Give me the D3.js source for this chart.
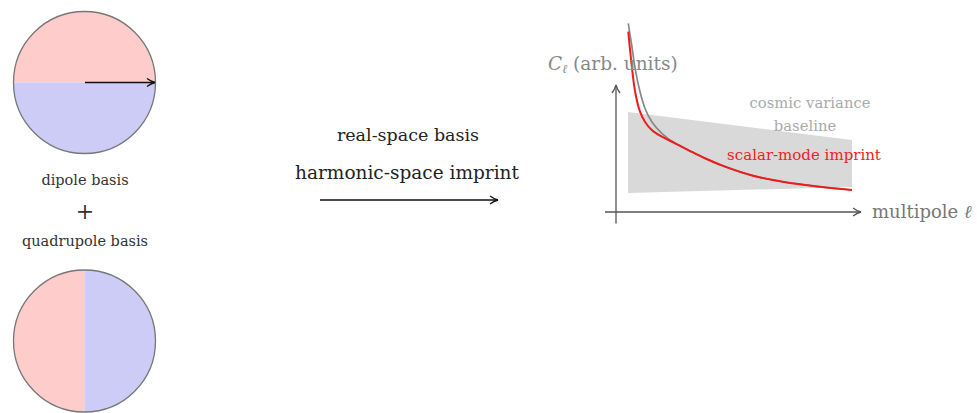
<!DOCTYPE html>
<meta charset="utf-8">
<head>
    <title>Basis to imprint</title>
    <script src="https://cdn.jsdelivr.net/npm/d3@7"></script>
    <style>
        html, body { margin: 0; padding: 0; background: white; }
        svg { display: block; font-family: "DejaVu Serif", "Liberation Serif", serif; }
    </style>
</head>
<body>
<svg id="fig" width="977" height="413"></svg>
<script>
    // multipole positions (arbitrary units 0..100) and C_ell values
    var ellRed   = [5.0, 6.4, 7.8, 9.8, 11.8, 14.6, 18.7, 24.1, 29.5, 36.3, 44.5, 55.9, 69.8, 83.3, 96.3];
    var clRed    = [142.0, 115.7, 94.7, 79.0, 71.1, 64.6, 59.3, 54.1, 48.8, 42.3, 35.7, 28.6, 23.2, 19.9, 17.3];
    var ellGray  = [5.0, 6.4, 7.8, 9.8, 11.8, 14.6, 18.7, 24.1, 29.5, 36.3, 44.5, 55.9, 69.8, 83.3, 96.3];
    var clGray   = [148.6, 131.5, 113.1, 94.7, 81.7, 71.1, 62.0, 54.1, 48.8, 42.3, 35.7, 28.6, 23.2, 19.9, 17.3];
    // cosmic variance band: lower and upper edge at both ends
    var bandEll   = [4.9, 96.3];
    var bandLow   = [15.0, 19.7];
    var bandHigh  = [78.7, 56.7];

    var svg = d3.select("#fig");

    // ---- left: the two basis disks
    var disks = [
        {cx: 84.5, cy: 82.5, r: 71, split: "h"},
        {cx: 84.5, cy: 341, r: 71, split: "v"}
    ];
    var pink = "#ffcccc", blue = "#ccccf7";

    disks.forEach(function(d, i) {
        var g = svg.append("g");
        var clipId = "clip" + i;
        g.append("clipPath").attr("id", clipId)
            .append("circle").attr("cx", d.cx).attr("cy", d.cy).attr("r", d.r);
        if (d.split == "h") {
            g.append("rect").attr("x", d.cx - d.r).attr("y", d.cy - d.r).attr("width", 2 * d.r).attr("height", d.r)
                .attr("fill", pink).attr("clip-path", "url(#" + clipId + ")");
            g.append("rect").attr("x", d.cx - d.r).attr("y", d.cy).attr("width", 2 * d.r).attr("height", d.r)
                .attr("fill", blue).attr("clip-path", "url(#" + clipId + ")");
        } else {
            g.append("rect").attr("x", d.cx - d.r).attr("y", d.cy - d.r).attr("width", d.r).attr("height", 2 * d.r)
                .attr("fill", pink).attr("clip-path", "url(#" + clipId + ")");
            g.append("rect").attr("x", d.cx).attr("y", d.cy - d.r).attr("width", d.r).attr("height", 2 * d.r)
                .attr("fill", blue).attr("clip-path", "url(#" + clipId + ")");
        }
        g.append("circle").attr("cx", d.cx).attr("cy", d.cy).attr("r", d.r)
            .attr("fill", "none").attr("stroke", "#777").attr("stroke-width", 1.3);
    });

    // arrow markers
    function marker(id, color) {
        var m = svg.append("defs").append("marker").attr("id", id)
            .attr("viewBox", "0 0 10 10").attr("refX", 9).attr("refY", 5)
            .attr("markerWidth", 10).attr("markerHeight", 10)
            .attr("markerUnits", "userSpaceOnUse").attr("orient", "auto");
        m.append("path").attr("d", "M1,1 Q5,4 9,5 Q5,6 1,9")
            .attr("fill", "none").attr("stroke", color).attr("stroke-width", 1.3);
    }
    marker("arrBlack", "#111");
    marker("arrGray", "#555");

    svg.append("line").attr("x1", 85).attr("y1", 82.5).attr("x2", 155).attr("y2", 82.5)
        .attr("stroke", "#111").attr("stroke-width", 1.5).attr("marker-end", "url(#arrBlack)");

    var leftText = [
        {t: "dipole basis", y: 185, size: 14.5},
        {t: "+", y: 219, size: 22},
        {t: "quadrupole basis", y: 246, size: 14.5}
    ];
    svg.selectAll("text.left").data(leftText).enter().append("text")
        .attr("class", "left")
        .attr("x", 85).attr("y", function(d) { return d.y; })
        .attr("text-anchor", "middle").attr("font-size", function(d) { return d.size; })
        .attr("fill", "#333")
        .style("font-weight", function(d) { return d.t == "+" ? 200 : 400; })
        .text(function(d) { return d.t; });

    // ---- middle: transform arrow
    svg.append("text").attr("x", 408).attr("y", 141).attr("text-anchor", "middle")
        .attr("font-size", 17.5).attr("fill", "#222").text("real-space basis");
    svg.append("text").attr("x", 407).attr("y", 179).attr("text-anchor", "middle")
        .attr("font-size", 18.5).attr("fill", "#222").text("harmonic-space imprint");
    svg.append("line").attr("x1", 320).attr("y1", 200).attr("x2", 498).attr("y2", 200)
        .attr("stroke", "#111").attr("stroke-width", 1.5).attr("marker-end", "url(#arrBlack)");

    // ---- right: power spectrum sketch
    var x = d3.scaleLinear().domain([0, 100]).range([616, 861]);
    var y = d3.scaleLinear().domain([0, 100]).range([212, 85]);

    var band = bandEll.map(function(e, i) { return {e: e, lo: bandLow[i], hi: bandHigh[i]}; });
    svg.append("path").datum(band)
        .attr("d", d3.area().x(function(d) { return x(d.e); })
            .y0(function(d) { return y(d.lo); }).y1(function(d) { return y(d.hi); }))
        .attr("fill", "#d9d9d9");

    // axes
    svg.append("line").attr("x1", x(0)).attr("y1", y(-9)).attr("x2", x(0)).attr("y2", y(100))
        .attr("stroke", "#555").attr("stroke-width", 1.3).attr("marker-end", "url(#arrGray)");
    svg.append("line").attr("x1", x(-4.5)).attr("y1", y(0)).attr("x2", x(100)).attr("y2", y(0))
        .attr("stroke", "#555").attr("stroke-width", 1.3).attr("marker-end", "url(#arrGray)");

    var line = d3.line().curve(d3.curveCatmullRom)
        .x(function(d) { return x(d[0]); }).y(function(d) { return y(d[1]); });
    svg.append("path").datum(d3.zip(ellGray, clGray)).attr("d", line)
        .attr("fill", "none").attr("stroke", "#888").attr("stroke-width", 1.7);
    svg.append("path").datum(d3.zip(ellRed, clRed)).attr("d", line)
        .attr("fill", "none").attr("stroke", "#ee1c1c").attr("stroke-width", 2);

    // labels
    var ylab = svg.append("text").attr("x", 548).attr("y", 70).attr("font-size", 18.5).attr("fill", "#888");
    ylab.append("tspan").attr("font-style", "italic").text("C");
    ylab.append("tspan").attr("font-style", "italic").attr("font-size", 12).attr("dy", 3).text("ℓ");
    ylab.append("tspan").attr("dy", -3).text(" (arb. units)");

    var xlab = svg.append("text").attr("x", 872).attr("y", 218).attr("font-size", 18).attr("fill", "#777");
    xlab.append("tspan").text("multipole ");
    xlab.append("tspan").attr("font-style", "italic").text("ℓ");

    svg.append("text").attr("x", 810).attr("y", 108).attr("text-anchor", "middle")
        .attr("font-size", 14.8).attr("fill", "#aaa").text("cosmic variance");
    svg.append("text").attr("x", 805).attr("y", 131).attr("text-anchor", "middle")
        .attr("font-size", 14.8).attr("fill", "#aaa").text("baseline");
    svg.append("text").attr("x", 804).attr("y", 160).attr("text-anchor", "middle")
        .attr("font-size", 15).attr("fill", "#ee2222").text("scalar-mode imprint");
</script>
</body>
</html>
